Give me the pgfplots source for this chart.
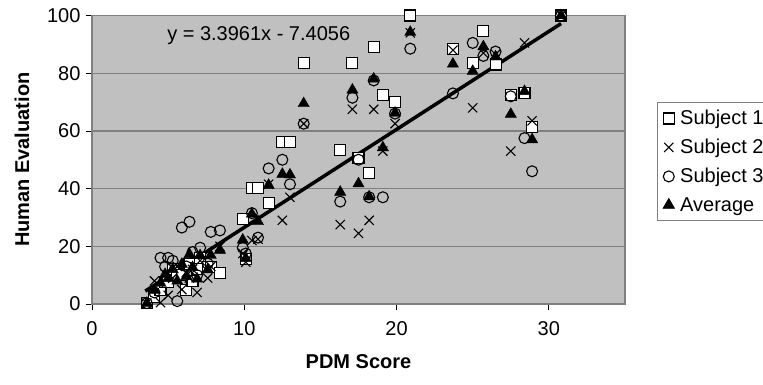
\documentclass[border=0pt]{standalone}
\usepackage{pgfplots}
\usepackage{pgfplotstable}
\pgfplotsset{compat=1.18}
\usepackage{fontspec}
\setmainfont{Liberation Sans}
\definecolor{plotgray}{RGB}{192,192,192}
\definecolor{gridgray}{RGB}{128,128,128}
\pgfplotstableread{
x    s1    s2    s3    avg
30.8 100   100   100   100
20.9 100   94    88.5  94.2
18.5 89    67.5  77.5  78
13.9 83.5  62.5  62.5  69.5
17.1 83.5  67.5  71.5  74.2
19.1 72.5  53    37    54.2
19.9 70    62.5  66    66.2
23.7 88.5  88    73    83.2
25.0 83.5  68    90.5  80.7
25.7 94.5  87    86    89.2
26.5 83    86.5  87.5  85.7
27.5 72.5  53    72    65.8
28.4 73    90.5  57.5  73.7
28.9 61.5  63.5  46    57
16.3 53.5  27.5  35.5  38.8
17.5 50.5  24.5  50    41.7
18.2 45.5  29    37    37.2
12.5 56    29    50    45
13.0 56    37    41.5  44.8
11.6 35    41.5  47    41.2
10.5 40.2  22    31.5  31.2
10.9 40.2  22.5  23    28.6
9.9  29.5  17.5  19.5  22.2
10.1 15.5  14.5  17.5  15.8
3.6  0.3   0.3   0.3   0.3
4.1  2.5   8     4     4.8
4.5  5     0.5   16    7.2
4.8  7.5   10.5  13    10.3
5.0  7.6   3     16    8.9
5.3  12    9     15    12
5.6  10    13    1     8
5.9  10    5     26.5  13.8
6.2  4.8   11    13    9.6
6.4  14    9     28.5  17.2
6.6  8     12    18    12.7
6.9  12    4     10    8.7
7.1  16    15    19.5  16.8
7.6  12.8  9     14    11.9
7.8  12.8  13    25    16.9
8.4  10.7  20    25.5  18.7
}\data
\begin{document}
\begin{tikzpicture}
\begin{axis}[
  scale only axis, width=533pt, height=288.5pt,
  xmin=0, xmax=35, ymin=0, ymax=100,
  xtick={0,10,20,30}, ytick={0,20,40,60,80,100},
  clip=false,
  axis background/.style={fill=plotgray},
  ymajorgrids, grid style={draw=gridgray, line width=1.2pt},
  axis line style={draw=gridgray, line width=1.2pt},
  tick style={draw=black, line width=0.8pt},
  tick align=outside, major tick length=6pt, tick pos=left,
  /pgf/number format/assume math mode=true,
  ticklabel style={font=\fontsize{20}{24}\selectfont},
  xticklabel style={yshift=-8pt},
  yticklabel style={xshift=-2pt},
  xlabel={\textbf{PDM Score}}, ylabel={\textbf{Human Evaluation}},
  label style={font=\fontsize{20}{24}\selectfont},
  x label style={at={(axis description cs:0.5,-0.201)}, anchor=center},
  y label style={at={(axis description cs:-0.1313,0.5)}, anchor=center},
  legend style={at={(rel axis cs:1.06,0.70)}, anchor=north west, draw=gridgray, fill=white,
    line width=0.8pt, font=\fontsize{20}{24}\selectfont, row sep=9pt,
    cells={anchor=west}, inner xsep=3pt, inner ysep=6pt},
  legend image code/.code={\path (0pt,0pt) (17pt,0pt); \draw[#1] plot coordinates {(8pt,0pt)};},
]
\coordinate (O) at (rel axis cs:0,0);
\addplot[only marks, mark=square*, mark size=5.5pt, mark options={draw=black, fill=white, line width=1.1pt}] table[x=x,y=s1]{\data};
\addlegendentry{Subject 1}
\addplot[only marks, mark=x, mark size=6.5pt, mark options={draw=black, line width=1.1pt}] table[x=x,y=s2]{\data};
\addlegendentry{Subject 2}
\addplot[only marks, mark=o, mark size=5.5pt, mark options={draw=black, line width=1.1pt}] table[x=x,y=s3]{\data};
\addlegendentry{Subject 3}
\addplot[only marks, mark=triangle*, mark size=6.5pt, mark options={draw=black, fill=black}] table[x=x,y=avg]{\data};
\addlegendentry{Average}
\addplot[black, line width=3.5pt, no marks, forget plot] coordinates {(3.5,4.48) (30.8,97.2)};
\node[anchor=west, inner sep=0pt, font=\fontsize{20}{24}\selectfont] at (axis cs:4.93,93.2) {y = 3.3961x - 7.4056};
\end{axis}
\pgfresetboundingbox
\path[use as bounding box] ([shift={(-92pt,-80pt)}]O) rectangle ([shift={(671pt,304pt)}]O);
\end{tikzpicture}
\end{document}
